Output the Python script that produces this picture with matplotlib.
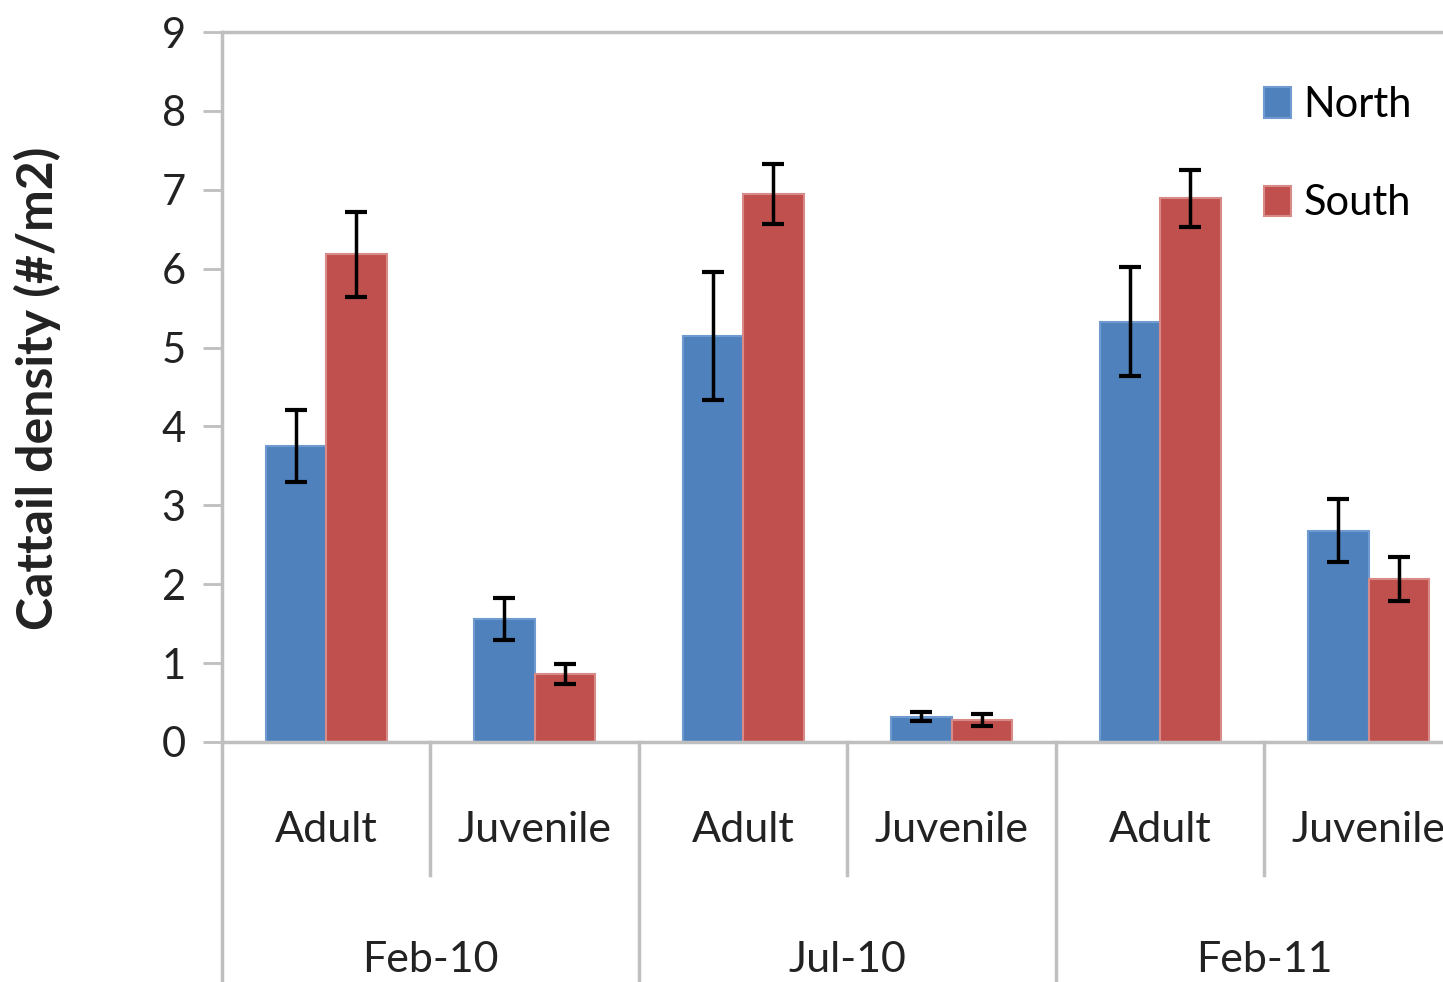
import numpy as np
import matplotlib
matplotlib.use("Agg")
import matplotlib.pyplot as plt
import matplotlib.transforms as mtransforms

plt.rcParams['font.family'] = ['Lato', 'DejaVu Sans']

stages = ["Adult", "Juvenile", "Adult", "Juvenile", "Adult", "Juvenile"]
dates = ["Feb-10", "Jul-10", "Feb-11"]

north = [3.75, 1.56, 5.15, 0.32, 5.33, 2.68]
north_err = [0.46, 0.27, 0.81, 0.06, 0.69, 0.40]
south = [6.18, 0.86, 6.95, 0.28, 6.89, 2.07]
south_err = [0.54, 0.13, 0.38, 0.08, 0.36, 0.28]

blue = '#4F81BD'
red = '#C0504D'
gray = '#BFBFBF'

fig = plt.figure(figsize=(14.43, 9.82), dpi=100)
ax = fig.add_axes([0.1538, 0.2444, 0.8669, 0.7230])

x = np.arange(len(stages)) + 0.5
w = 0.29
ax.bar(x - w/2, north, w, color=blue, edgecolor='#6F9BD0', linewidth=1.5, label='North', zorder=2)
ax.bar(x + w/2, south, w, color=red, edgecolor='#D88A88', linewidth=1.5, label='South', zorder=2)
ax.errorbar(x - w/2, north, yerr=north_err, fmt='none', ecolor='black', elinewidth=2.5, capsize=8, capthick=3, zorder=3)
ax.errorbar(x + w/2, south, yerr=south_err, fmt='none', ecolor='black', elinewidth=2.5, capsize=8, capthick=3, zorder=3)

ax.set_xlim(0, len(stages))
ax.set_ylim(0, 9)
ax.set_yticks(range(10))
ax.tick_params(axis='y', labelsize=30, length=14, width=2, color=gray, pad=12, labelcolor='#222222')
ax.set_xticks([])

ax.spines['right'].set_visible(False)
for s in ['left', 'bottom', 'top']:
    ax.spines[s].set_color(gray)
    ax.spines[s].set_linewidth(2.5)

# category axis below the plot
trans = mtransforms.blended_transform_factory(ax.transData, ax.transAxes)
for i in range(len(stages) + 1):
    bottom = -0.34 if i % 2 == 0 else -0.187
    ax.plot([i, i], [0, bottom], color=gray, lw=2.5, transform=trans, clip_on=False)
for xi, lab in zip(x, stages):
    ax.text(xi, -0.124, lab, transform=trans, ha='center', va='center', fontsize=31, color='#222222')
for j, d in enumerate(dates):
    ax.text(2 * j + 1, -0.307, d, transform=trans, ha='center', va='center', fontsize=31, color='#222222')

fig.text(37 / 1443, 1 - 388 / 982, "Cattail density (#/m2)", rotation=90, ha='center', va='center',
         fontsize=36, fontweight='bold', color='#222222')

leg = ax.legend(loc='upper left', bbox_to_anchor=(1264 / 1443, 1 - 86 / 982), bbox_transform=fig.transFigure,
                frameon=False, fontsize=30, borderpad=0, borderaxespad=0,
                handlelength=0.65, handleheight=0.75, handletextpad=0.3, labelspacing=1.45)

fig.savefig('out.png', dpi=100)
